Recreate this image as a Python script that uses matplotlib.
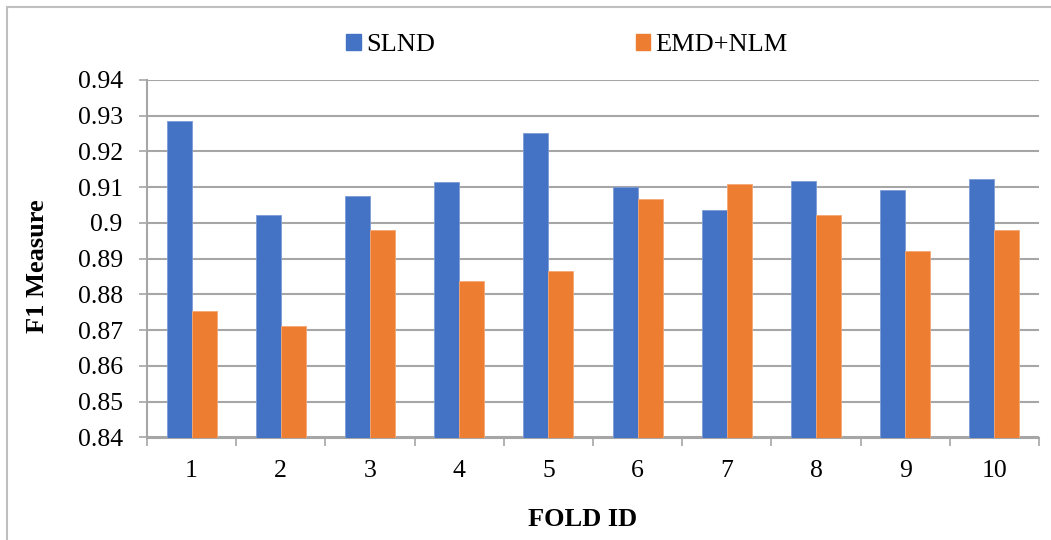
import numpy as np
import matplotlib.pyplot as plt
from matplotlib.patches import Rectangle, Patch

# ----------------
# DATA
# ----------------

folds = ['1', '2', '3', '4', '5', '6', '7', '8', '9', '10']
slnd = [0.9286, 0.9023, 0.9076, 0.9116, 0.9252, 0.9101, 0.9035, 0.9118, 0.9092, 0.9124]
emd_nlm = [0.8754, 0.8711, 0.8980, 0.8839, 0.8867, 0.9067, 0.9109, 0.9022, 0.8922, 0.8980]

blue = '#4472C4'
orange = '#ED7D31'
grid_col = '#A6A6A6'

# ----------------
# PLOT
# ----------------

plt.rcParams['font.family'] = ['Liberation Serif', 'DejaVu Serif']

W, H = 1051, 540
fig = plt.figure(figsize=(W / 100, H / 100), dpi=100)
ax = fig.add_axes([147 / W, 1 - 437.5 / H, (1039 - 147) / W, (437.5 - 80) / H])

x = np.arange(1, len(folds) + 1)
bw = 0.28
ax.bar(x - bw / 2, slnd, bw, color=blue, edgecolor='#7C9BD6', linewidth=0.6, zorder=3)
ax.bar(x + bw / 2, emd_nlm, bw, color=orange, edgecolor='#F4A774', linewidth=0.6, zorder=3)

ax.set_xlim(0.5, len(folds) + 0.5)
ax.set_ylim(0.84, 0.94)
yt = np.round(np.arange(0.84, 0.9401, 0.01), 2)
ax.set_yticks(yt)
ax.set_yticklabels(['%g' % v for v in yt])
ax.set_xticks(x)
ax.set_xticklabels(folds)
ax.set_xticks(np.arange(0.5, len(folds) + 1, 1), minor=True)

ax.tick_params(axis='x', which='major', length=0, pad=16, labelsize=18.5)
ax.tick_params(axis='x', which='minor', length=6, width=1.2, color=grid_col, direction='out')
ax.tick_params(axis='y', length=6, width=1.2, color=grid_col, pad=11.5, labelsize=18.5)

ax.grid(axis='y', color=grid_col, linewidth=1.5, zorder=0)
ax.set_axisbelow(True)
for s in ['top', 'right']:
    ax.spines[s].set_visible(False)
for s in ['left', 'bottom']:
    ax.spines[s].set_color(grid_col)
    ax.spines[s].set_linewidth(1.5)

fig.text(38 / W, 1 - 266 / H, 'F1 Measure', rotation=90, ha='center', va='center',
         fontsize=19, fontweight='bold')
fig.text(583 / W, 1 - 520 / H, 'FOLD ID', ha='center', va='center',
         fontsize=19, fontweight='bold')

handles = [Patch(color=blue), Patch(color=orange)]
fig.legend(handles, ['SLND', 'EMD+NLM'], loc='center', ncol=2,
           bbox_to_anchor=(567 / W, 1 - 45 / H), frameon=False, fontsize=19,
           handlelength=0.55, handleheight=0.55, handletextpad=0.2, columnspacing=7.6)

# outer chart border
fig.patches.append(Rectangle((6.5 / W, -0.1), 1.2, 1.1 - 7 / H, transform=fig.transFigure,
                             fill=False, edgecolor='#BFBFBF', linewidth=1.5))

fig.savefig('out.png', dpi=100)
plt.close()
